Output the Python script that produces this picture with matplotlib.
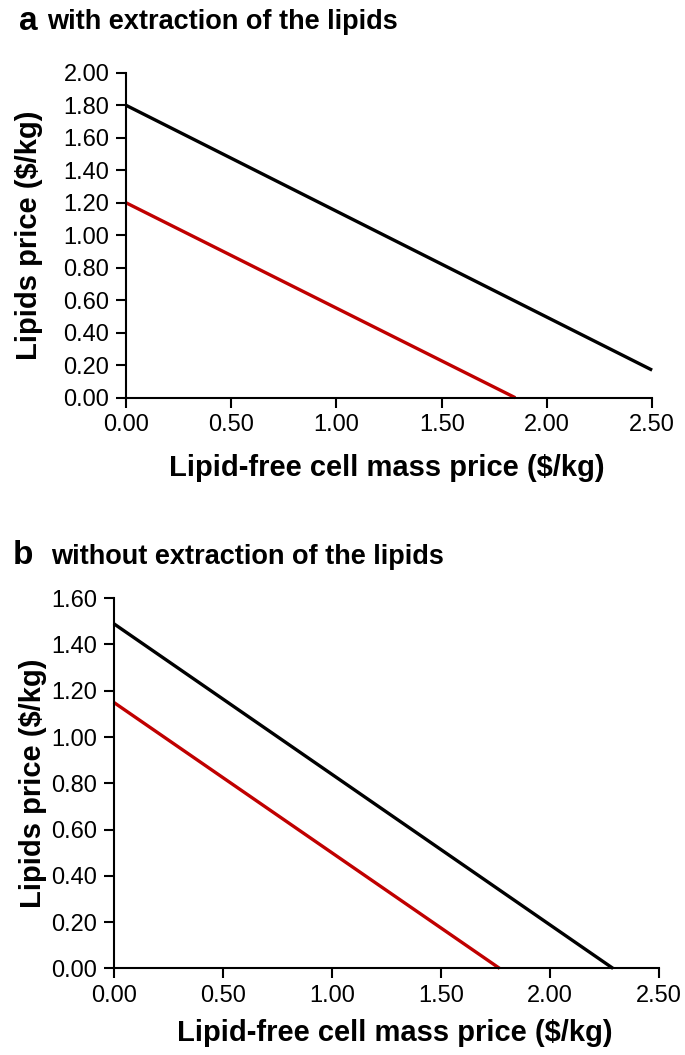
import matplotlib
matplotlib.use('Agg')
import matplotlib.pyplot as plt
import numpy as np

plt.rcParams['font.family'] = 'Liberation Sans'

# panel a: with extraction of the lipids
x_a = [0.0, 2.5]
black_a = [1.80, 0.17]
x_red_a = [0.0, 1.85]
red_a = [1.20, 0.0]

# panel b: without extraction of the lipids
x_black_b = [0.0, 2.29]
black_b = [1.49, 0.0]
x_red_b = [0.0, 1.77]
red_b = [1.15, 0.0]

xticks = [0.0, 0.5, 1.0, 1.5, 2.0, 2.5]
yticks_a = np.arange(0, 2.01, 0.2)
yticks_b = np.arange(0, 1.61, 0.2)

fig = plt.figure(figsize=(6.85, 10.55), dpi=100)
ax1 = fig.add_axes([0.184, 0.623, 0.768, 0.308])
ax2 = fig.add_axes([0.166, 0.082, 0.796, 0.351])

red = '#c00000'

def style(ax, yticks, ymax, ylab_x, xlab_x, xlab_y):
    ax.set_xlim(0, 2.5)
    ax.set_ylim(0, ymax)
    ax.set_xticks(xticks)
    ax.set_xticklabels(['%.2f' % v for v in xticks])
    ax.set_yticks(yticks)
    ax.set_yticklabels(['%.2f' % v for v in yticks])
    for s in ['top', 'right']:
        ax.spines[s].set_visible(False)
    for s in ['left', 'bottom']:
        ax.spines[s].set_linewidth(1.5)
    ax.tick_params(direction='out', length=7, width=1.5, labelsize=17, pad=5)
    ax.set_xlabel('Lipid-free cell mass price ($/kg)', fontsize=21, fontweight='bold', va='center')
    ax.set_ylabel('Lipids price ($/kg)', fontsize=21, fontweight='bold')
    ax.yaxis.set_label_coords(ylab_x, 0.5)
    ax.xaxis.set_label_coords(xlab_x, xlab_y)

ax1.plot(x_a, black_a, color='black', lw=2.4, clip_on=False, solid_capstyle='butt')
ax1.plot(x_red_a, red_a, color=red, lw=2.4, clip_on=False, solid_capstyle='butt')
style(ax1, yticks_a, 2.0, -0.158, 0.496, -0.215)

ax2.plot(x_black_b, black_b, color='black', lw=2.4, clip_on=False, solid_capstyle='butt')
ax2.plot(x_red_b, red_b, color=red, lw=2.4, clip_on=False, solid_capstyle='butt')
style(ax2, yticks_b, 1.6, -0.123, 0.515, -0.173)

fig.text(0.028, 0.980, 'a', fontsize=24, fontweight='bold', va='center')
fig.text(0.068, 0.979, 'with extraction of the lipids', fontsize=19.5, fontweight='bold', va='center')
fig.text(0.018, 0.473, 'b', fontsize=24, fontweight='bold', va='center')
fig.text(0.074, 0.472, 'without extraction of the lipids', fontsize=19.5, fontweight='bold', va='center')

fig.savefig('out.png', dpi=100)
